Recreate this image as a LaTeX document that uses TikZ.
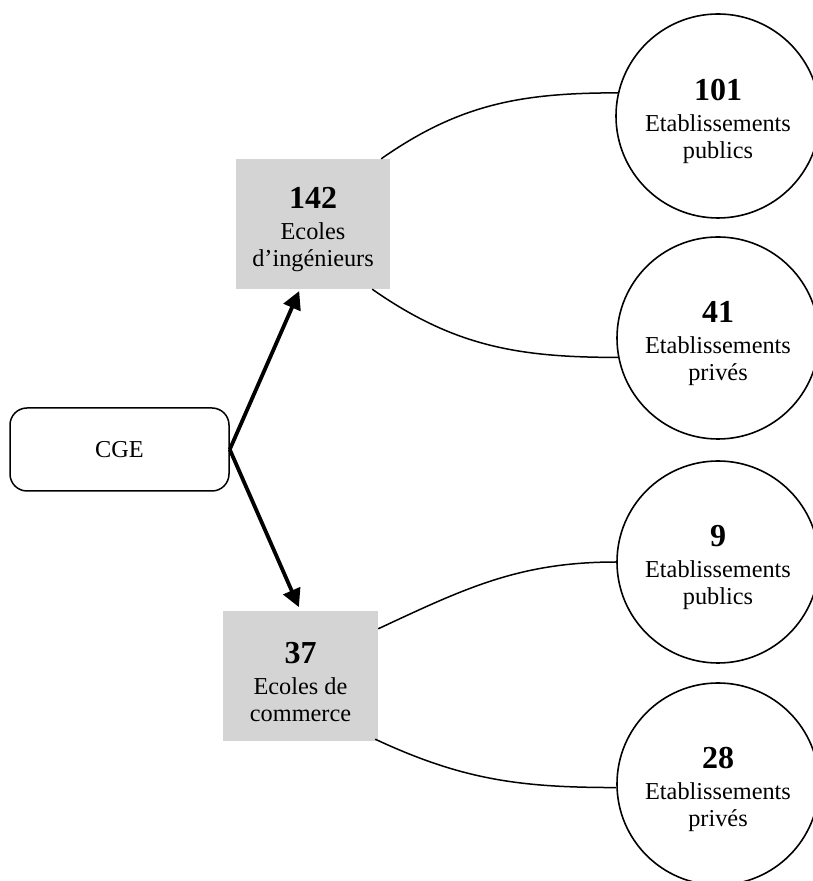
\documentclass[tikz,border=0pt]{standalone}
\usepackage{fontspec}
\setmainfont{Liberation Serif}
\usetikzlibrary{arrows.meta,calc}
\definecolor{boxgray}{HTML}{D4D4D4}
\newcommand{\numtxt}[1]{\rule{0pt}{33pt}{\bfseries\fontsize{32}{36}\selectfont #1}}
\tikzset{
  x=1pt,y=1pt,
  txt/.style={font=\fontsize{24.3}{27}\selectfont, align=center, inner sep=0pt},
  graybox/.style={txt, fill=boxgray, minimum width=154pt, minimum height=130pt},
  etab/.style={txt, draw, circle, line width=1.6pt, minimum size=202pt},
  rootbox/.style={txt, draw, rounded corners=17pt, line width=1.5pt, minimum width=219pt, minimum height=83pt},
  bigarrow/.style={line width=3.8pt, -{Triangle[length=18pt,width=18pt]}},
  link/.style={line width=1.5pt},
}
\begin{document}
\begin{tikzpicture}
\useasboundingbox (0,0) rectangle (812,881);
\node[rootbox] (cge) at (119.5,431.5) {CGE};
\node[graybox] (ing) at (313,657) {\numtxt{142}\\[4pt] Ecoles\\ d’ingénieurs};
\node[graybox, minimum width=155pt] (com) at (300.5,205) {\numtxt{37}\\[4pt] Ecoles de\\ commerce};
\node[etab, minimum size=204pt] (c1) at (718,765) {\numtxt{101}\\[4pt] Etablissements\\ publics};
\node[etab] (c2) at (718,543) {\numtxt{41}\\[4pt] Etablissements\\ privés};
\node[etab] (c3) at (718,319) {\numtxt{9}\\[4pt] Etablissements\\ publics};
\node[etab] (c4) at (718,97) {\numtxt{28}\\[4pt] Etablissements\\ privés};
\draw[bigarrow, shorten >=2pt] (cge.east) -- ([xshift=-13pt]ing.south);
\draw[bigarrow, shorten >=4pt] (cge.east) -- (com.north);
\draw[link] ([xshift=-9pt]ing.north east) to[out=35, in=180] (c1.167);
\draw[link] ([xshift=-18pt]ing.south east) to[out=-35, in=180] (c2.191);
\draw[link] ([yshift=-18pt]com.north east) to[out=25, in=180] (c3.180);
\draw[link] ([xshift=-3pt,yshift=2pt]com.south east) to[out=-25, in=180] (c4.182);
\end{tikzpicture}
\end{document}
